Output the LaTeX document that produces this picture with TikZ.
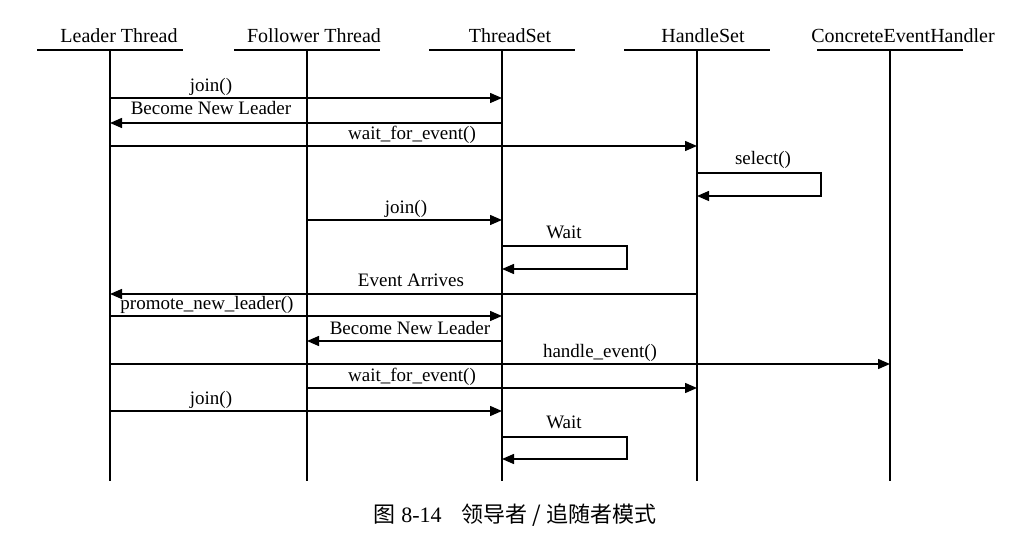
\documentclass[tikz,border=0pt]{standalone}
\usepackage{fontspec}
\setmainfont{Liberation Serif}
\newfontfamily\cjk{Noto Sans CJK SC}
\usetikzlibrary{arrows.meta}

\tikzset{
  head/.style={anchor=base, inner sep=0pt, font=\fontsize{10}{12}\selectfont},
  lbl/.style={anchor=base, inner sep=0pt, font=\fontsize{9.5}{11}\selectfont},
  life/.style={line width=0.7pt},
  msg/.style={line width=0.7pt, -{Triangle[length=6pt,width=5pt]}},
}

\begin{document}
\begin{tikzpicture}[x=0.5pt,y=-0.5pt]
\useasboundingbox (0,0) rectangle (1026,560);
% lifeline tops and bottom
\coordinate (L) at (110,50);
\coordinate (F) at (307,50);
\coordinate (T) at (502,50);
\coordinate (H) at (697,50);
\coordinate (C) at (890,50);
\coordinate (bot) at (0,481);

% headers
\node[head] (hL) at (119,43) {Leader Thread};
\node[head] (hF) at (314,43) {Follower Thread};
\node[head] (hT) at (510,43) {ThreadSet};
\node[head] (hH) at (703,43) {HandleSet};
\node[head] (hC) at (903,43) {ConcreteEventHandler};
\draw[life] ([xshift=-36.5pt]L) -- ([xshift=36.5pt]L);
\draw[life] ([xshift=-36.5pt]F) -- ([xshift=36.5pt]F);
\draw[life] ([xshift=-36.5pt]T) -- ([xshift=36.5pt]T);
\draw[life] ([xshift=-36.5pt]H) -- ([xshift=36.5pt]H);
\draw[life] ([xshift=-36.5pt]C) -- ([xshift=36.5pt]C);
\draw[life] (L) -- (L |- bot);
\draw[life] (F) -- (F |- bot);
\draw[life] (T) -- (T |- bot);
\draw[life] (H) -- (H |- bot);
\draw[life] (C) -- (C |- bot);

% message rows
\coordinate (r1) at (0,98);
\coordinate (r2) at (0,123);
\coordinate (r3) at (0,146);
\coordinate (s1) at (821,173);
\coordinate (s1b) at (821,196);
\coordinate (r5) at (0,220);
\coordinate (w1) at (627,246);
\coordinate (w1b) at (627,269);
\coordinate (r7) at (0,294);
\coordinate (r8) at (0,316);
\coordinate (r9) at (0,341);
\coordinate (r10) at (0,364);
\coordinate (r11) at (0,388);
\coordinate (r12) at (0,411);
\coordinate (w2) at (627,437);
\coordinate (w2b) at (627,459);

\node[lbl] (m1) at (211,92) {join()};
\draw[msg] (L |- r1) -- (T |- r1);
\node[lbl] (m2) at (211,115) {Become New Leader};
\draw[msg] (T |- r2) -- (L |- r2);
\node[lbl] (m3) at (412,140) {wait\_for\_event()};
\draw[msg] (L |- r3) -- (H |- r3);
\node[lbl] (m4) at (763,165) {select()};
\draw[msg] (H |- s1) -| (s1b) -- (H |- s1b);
\node[lbl] (m5) at (406,214) {join()};
\draw[msg] (F |- r5) -- (T |- r5);
\node[lbl] (m6) at (564,239) {Wait};
\draw[msg] (T |- w1) -| (w1b) -- (T |- w1b);
\node[lbl] (m7) at (411,287) {Event Arrives};
\draw[msg] (H |- r7) -- (L |- r7);
\node[lbl] (m8) at (207,310) {promote\_new\_leader()};
\draw[msg] (L |- r8) -- (T |- r8);
\node[lbl] (m9) at (410,335) {Become New Leader};
\draw[msg] (T |- r9) -- (F |- r9);
\node[lbl] (m10) at (600,358) {handle\_event()};
\draw[msg] (L |- r10) -- (C |- r10);
\node[lbl] (m11) at (412,382) {wait\_for\_event()};
\draw[msg] (F |- r11) -- (H |- r11);
\node[lbl] (m12) at (211,405) {join()};
\draw[msg] (L |- r12) -- (T |- r12);
\node[lbl] (m13) at (564,429) {Wait};
\draw[msg] (T |- w2) -| (w2b) -- (T |- w2b);

% caption
\node[anchor=base, inner sep=0pt, font=\fontsize{11}{13}\selectfont] (cap) at (515,522)
  {{\cjk 图} 8-14\hspace{10pt}{\cjk 领导者 / 追随者模式}};
\end{tikzpicture}
\end{document}
